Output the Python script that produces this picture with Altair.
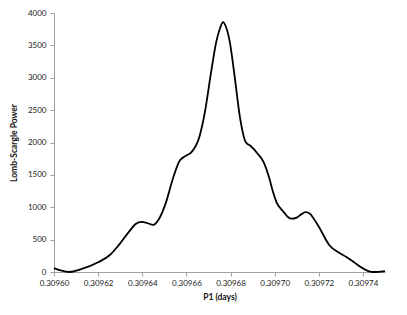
import altair as alt
import pandas as pd

period = [0.3096000, 0.3096030, 0.3096071, 0.3096120, 0.3096200, 0.3096252,
          0.3096298, 0.3096343, 0.3096370, 0.3096396, 0.3096420, 0.3096449,
          0.3096479, 0.3096509, 0.3096539, 0.3096570, 0.3096600, 0.3096622,
          0.3096660, 0.3096683, 0.3096713, 0.3096736, 0.3096752, 0.3096766,
          0.3096780, 0.3096796, 0.3096819, 0.3096842, 0.3096870, 0.3096890,
          0.3096924, 0.3096950, 0.3096978, 0.3096992, 0.3097008, 0.3097038,
          0.3097060, 0.3097076, 0.3097100, 0.3097120, 0.3097140, 0.3097160,
          0.3097174, 0.3097200, 0.3097249, 0.3097290, 0.3097325, 0.3097360,
          0.3097400, 0.3097425, 0.3097445, 0.3097470, 0.3097500]
power = [60, 25, 0, 40, 150, 258, 435, 636, 740, 773, 760, 727, 838, 1091, 1444,
         1722, 1800, 1848, 2101, 2455, 3110, 3565, 3760, 3859, 3780, 3565, 3010,
         2404, 2000, 1950, 1823, 1697, 1420, 1242, 1080, 939, 850, 823, 840, 890,
         924, 900, 838, 700, 409, 300, 232, 150, 56, 15, 0, 3, 15]

x_ticks = [0.30960, 0.30962, 0.30964, 0.30966, 0.30968, 0.30970, 0.30972, 0.30974]
y_ticks = [0, 500, 1000, 1500, 2000, 2500, 3000, 3500, 4000]

df = pd.DataFrame({"period": period, "power": power})

font = "Lato"

chart = alt.Chart(df).mark_line(
    color="black", strokeWidth=1.8, interpolate="monotone"
).encode(
    x=alt.X("period:Q",
            scale=alt.Scale(domain=[0.30960, 0.30975], nice=False, zero=False),
            axis=alt.Axis(title="P1 (days)", values=x_ticks, format=".5f",
                          labelOverlap=False, labelFlush=False, grid=False,
                          domainColor="#a0a0a0", tickColor="#a0a0a0",
                          tickSize=4, labelFontSize=8, labelColor="#222",
                          titleFontSize=8.5, titleFontWeight="bold", titleColor="#111",
                          labelFont=font, titleFont=font, titlePadding=5,
                          labelPadding=3)),
    y=alt.Y("power:Q",
            scale=alt.Scale(domain=[0, 4000], nice=False),
            axis=alt.Axis(title="Lomb-Scargle Power", values=y_ticks, format="d",
                          labelOverlap=False, labelFlush=False, grid=False,
                          domainColor="#a0a0a0", tickColor="#a0a0a0",
                          tickSize=4, labelFontSize=8, labelColor="#222",
                          titleFontSize=8.5, titleFontWeight="bold", titleColor="#111",
                          labelFont=font, titleFont=font, titlePadding=9,
                          labelPadding=4)),
).properties(
    width=331, height=259,
    autosize=alt.AutoSizeParams(type="none"),
    padding={"left": 46, "top": 5, "right": 10, "bottom": 35},
).configure_view(stroke=None)

chart.save("out.html", embed_options={"renderer": "svg", "actions": False})
